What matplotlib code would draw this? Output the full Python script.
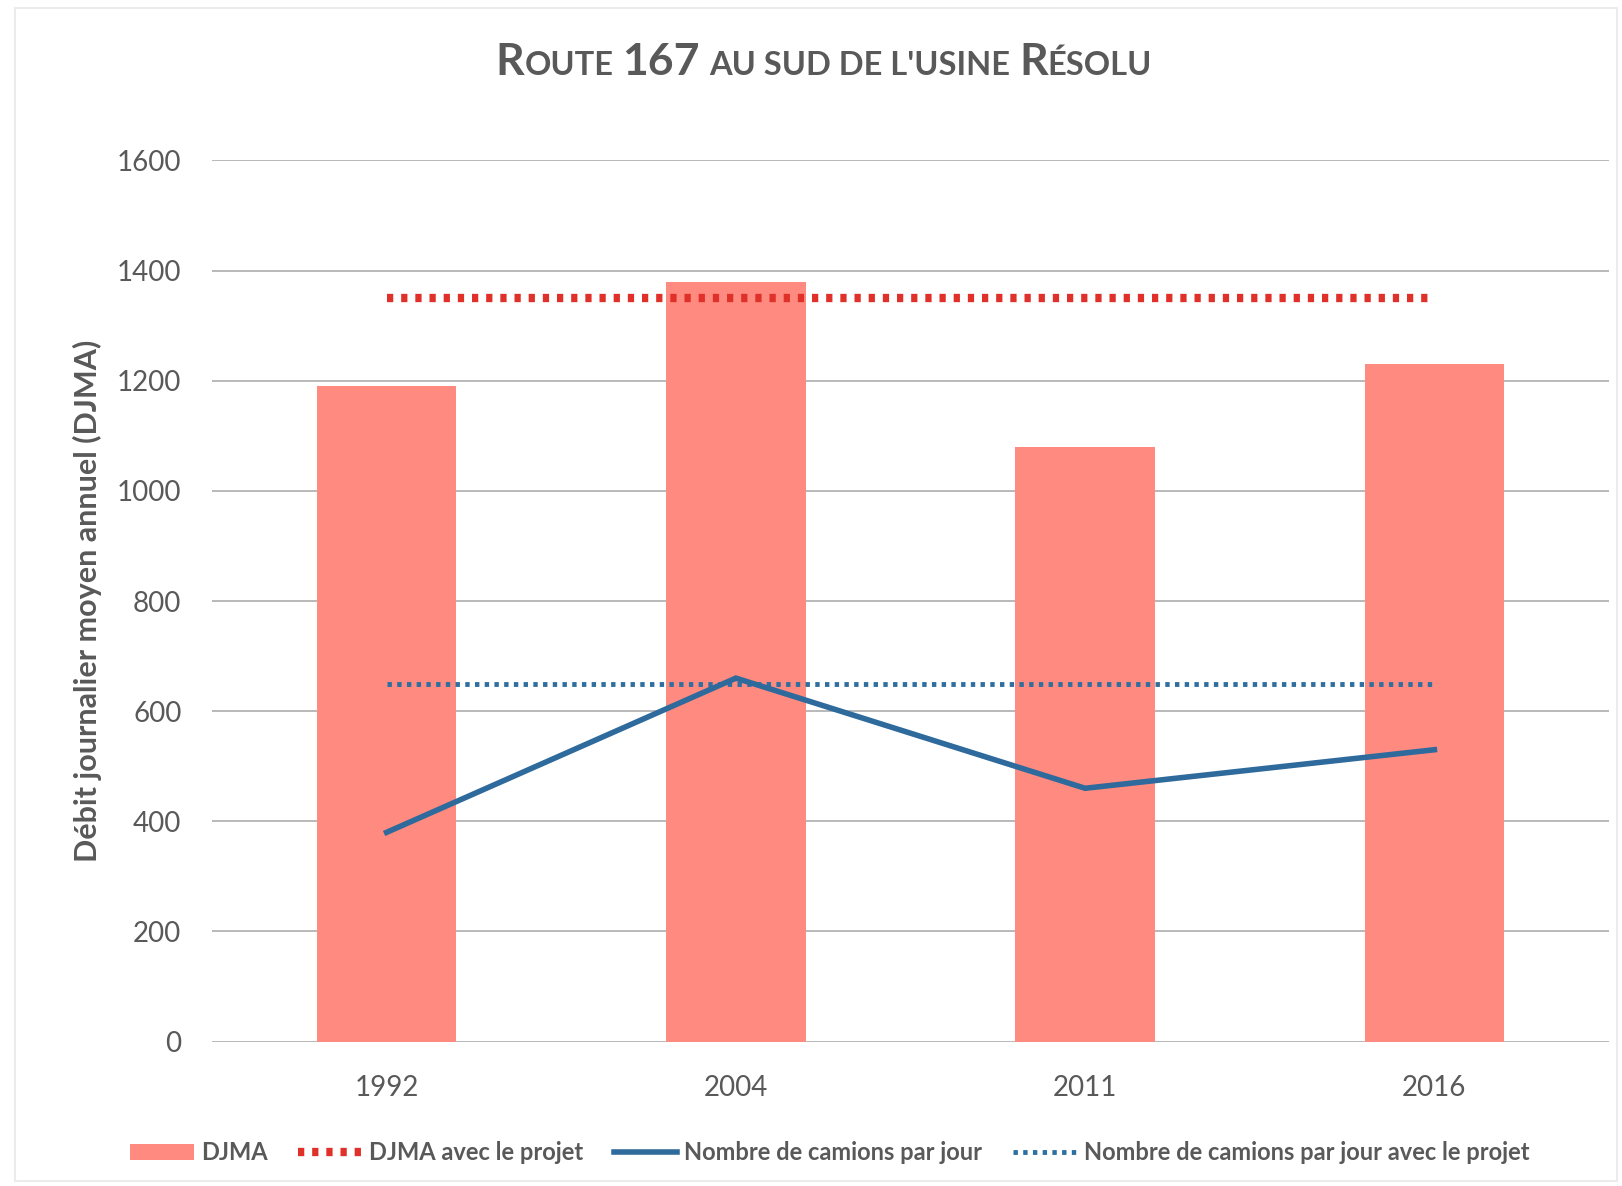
import matplotlib.pyplot as plt
import matplotlib.patches as patches
import numpy as np

# data
years = ["1992", "2004", "2011", "2016"]
djma = [1190, 1380, 1080, 1230]
djma_projet = [1350, 1350, 1350, 1350]
camions = [380, 660, 460, 530]
camions_projet = [650, 650, 650, 650]
yticks = [0, 200, 400, 600, 800, 1000, 1200, 1400, 1600]

grey = "#595959"
plt.rcParams['font.family'] = ['Lato', 'DejaVu Sans']

fig = plt.figure(figsize=(16.22, 11.86), dpi=100)
ax = fig.add_axes([0.1307, 0.1217, 0.8613, 0.7431])

x = np.arange(len(years))
bars = ax.bar(x, djma, width=0.4, color="#FF8A80", label="DJMA", zorder=2)
l1, = ax.plot(x, djma_projet, color="#E0302A", lw=6, linestyle=(0, (0.75, 0.95)),
              label="DJMA avec le projet", zorder=3)
l2, = ax.plot(x, camions, color="#2E6A9C", lw=4, label="Nombre de camions par jour",
              zorder=4, solid_joinstyle="miter")
l3, = ax.plot(x, camions_projet, color="#2E6FA0", lw=3.5, linestyle=(0, (0.9, 1.1)),
              label="Nombre de camions par jour avec le projet", zorder=3)

ax.set_xlim(-0.5, 3.5)
ax.set_ylim(0, 1600)
ax.set_yticks(yticks)
ax.set_xticks(x)
ax.set_xticklabels(years)
ax.grid(axis="y", color="#A6A6A6", lw=1.1, zorder=0)
for s in ax.spines.values():
    s.set_visible(False)
ax.tick_params(axis="both", length=0, labelsize=20, labelcolor=grey)
ax.tick_params(axis="y", pad=22)
ax.tick_params(axis="x", pad=24)

ax.set_ylabel("Débit journalier moyen annuel (DJMA)", fontsize=22, color=grey,
              fontweight="bold")
ax.yaxis.set_label_coords(-0.0785, 0.5)

fig.legend([bars, l1, l2, l3], [h.get_label() for h in [bars, l1, l2, l3]],
           loc="center", bbox_to_anchor=(0.5115, 0.028), ncol=4, frameon=False,
           labelcolor=grey, handlelength=2.7, handletextpad=0.3,
           columnspacing=1.3, prop={"weight": "bold", "size": 17})

# title with small caps, built from pieces
pieces = [("R", 32), ("OUTE", 23.5), (" ", 23.5), ("167", 32), (" ", 23.5),
          ("AU SUD DE L'USINE", 23.5), (" ", 23.5), ("R", 32), ("ÉSOLU", 23.5)]
renderer = fig.canvas.get_renderer()
texts = []
widths = []
for txt, size in pieces:
    if txt == " ":
        t = fig.text(0, 0.937, "a", fontsize=size, fontweight="bold", color=grey)
        w = t.get_window_extent(renderer).width * 0.55
        t.remove()
        texts.append(None)
        widths.append(w)
        continue
    t = fig.text(0, 0.937, txt, fontsize=size, fontweight="bold", color=grey,
                 va="baseline", ha="left")
    texts.append(t)
    widths.append(t.get_window_extent(renderer).width)
total = sum(widths)
start = 0.508 * fig.bbox.width - total / 2
for t, w in zip(texts, widths):
    if t is not None:
        t.set_x(start / fig.bbox.width)
    start += w

fig.patches.append(patches.Rectangle((0.009, 0.004), 0.988, 0.989, transform=fig.transFigure,
                                     fill=False, edgecolor="#EBEBEB", lw=1.5))

fig.savefig("out.png", dpi=100)
